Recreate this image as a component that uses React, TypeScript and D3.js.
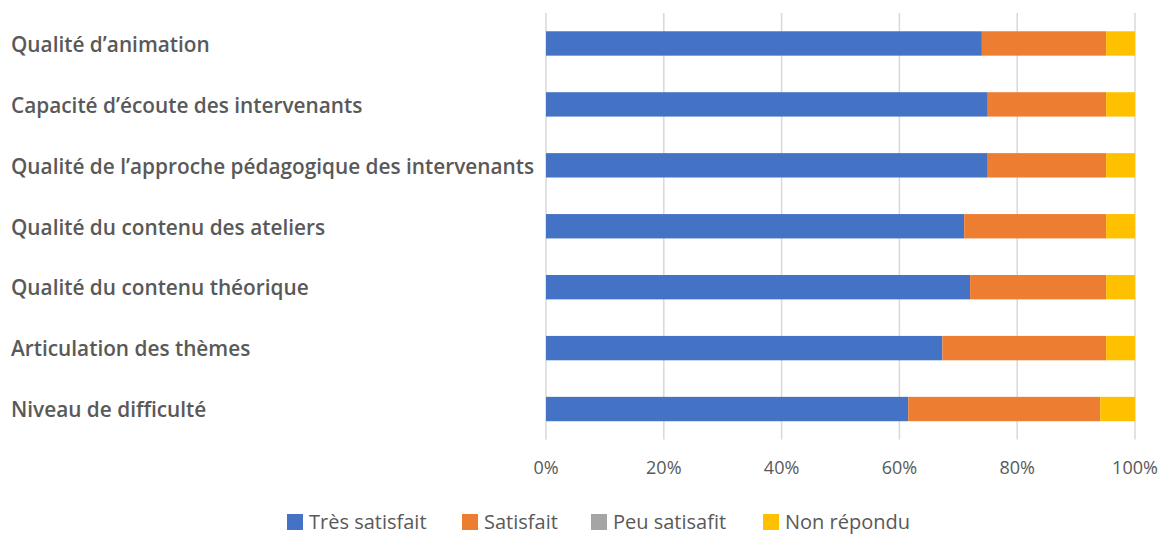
import * as d3 from 'd3';
import React from 'react';

const categories = [
  'Qualité d’animation',
  'Capacité d’écoute des intervenants',
  'Qualité de l’approche pédagogique des intervenants',
  'Qualité du contenu des ateliers',
  'Qualité du contenu théorique',
  'Articulation des thèmes',
  'Niveau de difficulté',
];

const tresSatisfait = [74, 75, 75, 71, 72, 67.3, 61.5];
const satisfait = [21.1, 20.1, 20.1, 24.1, 23.1, 27.8, 32.6];
const peuSatisfait = [0, 0, 0, 0, 0, 0, 0];
const nonRepondu = [4.9, 4.9, 4.9, 4.9, 4.9, 4.9, 5.9];

const seriesNames = ['Très satisfait', 'Satisfait', 'Peu satisafit', 'Non répondu'];
const seriesColors = ['#4472C4', '#ED7D31', '#A5A5A5', '#FFC000'];
const tickValues = [0, 0.2, 0.4, 0.6, 0.8, 1];

type Row = { cat: string; [k: string]: number | string };

const width = 1164;
const height = 534;
const margin = { top: 13, right: 29, bottom: 95, left: 546 };

const App: React.FC = () => {
  const rows: Row[] = categories.map((c, i) => ({
    cat: c,
    'Très satisfait': tresSatisfait[i],
    'Satisfait': satisfait[i],
    'Peu satisafit': peuSatisfait[i],
    'Non répondu': nonRepondu[i],
  }));

  const stack = d3.stack<Row>()
    .keys(seriesNames)
    .value((d, k) => d[k] as number)
    .offset(d3.stackOffsetExpand);
  const layers = stack(rows);

  const x = d3.scaleLinear()
    .domain([0, 1])
    .range([margin.left, width - margin.right]);

  const y = d3.scaleBand()
    .domain(categories)
    .range([margin.top, height - margin.bottom + 0.5])
    .paddingInner(0.6)
    .paddingOuter(0.3);

  const fmt = d3.format('.0%');
  const font = 'Open Sans, Lato, sans-serif';

  // legend swatch positions
  const legendX = [287, 462, 591, 763];

  return (
    <svg width={width} height={height} style={{ position: 'absolute', left: 0, top: 0, background: '#fff' }}>
      {tickValues.map(t => (
        <line key={t} x1={x(t)} x2={x(t)} y1={margin.top} y2={height - margin.bottom + 0.5} stroke="#d9d9d9" strokeWidth={1.5} />
      ))}
      {layers.map((layer, li) => (
        <g key={layer.key} fill={seriesColors[li]}>
          {layer.map((d, i) => (
            <rect key={i} x={x(d[0])} y={y(categories[i])} width={Math.max(0, x(d[1]) - x(d[0]))} height={y.bandwidth()} />
          ))}
        </g>
      ))}
      {categories.map(c => (
        <text key={c} x={11} y={(y(c) as number) + y.bandwidth() / 2 + 1} dy="0.35em" fill="#595959" fontFamily={font} fontWeight={600} fontSize={20.8}>
          {c}
        </text>
      ))}
      {tickValues.map(t => (
        <text key={t} x={x(t)} y={474} textAnchor="middle" fill="#595959" fontFamily={font} fontSize={18}>
          {fmt(t)}
        </text>
      ))}
      {seriesNames.map((s, i) => (
        <g key={s} transform={`translate(${legendX[i]},514)`}>
          <rect width={16} height={16} fill={seriesColors[i]} />
          <text x={22} y={15} fill="#595959" fontFamily={font} fontSize={20}>{s}</text>
        </g>
      ))}
    </svg>
  );
};

export default App;
